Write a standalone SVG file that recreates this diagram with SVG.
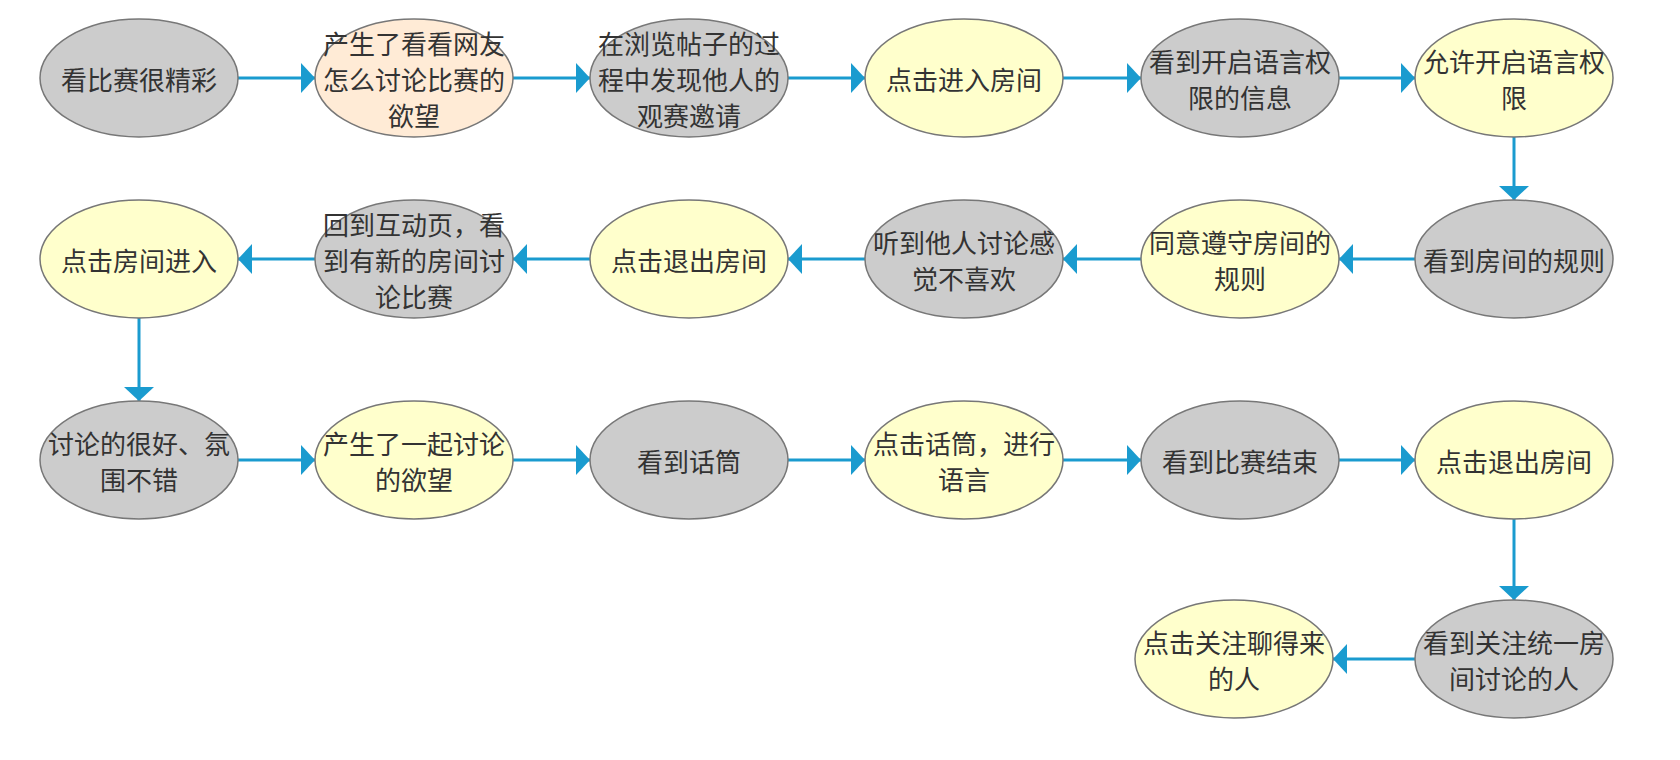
<svg xmlns="http://www.w3.org/2000/svg" width="1680" height="760" viewBox="0 0 1680 760">
<style>
.n ellipse{stroke:#777;stroke-width:1.5}
.g ellipse{fill:#cccccc}
.y ellipse{fill:#ffffcc}
.p ellipse{fill:#ffebd6}
text{font-family:"Noto Sans CJK SC","Noto Sans",sans-serif;font-size:26px;fill:#333;text-anchor:middle;dominant-baseline:central}
.c line{stroke:#1a9bcf;stroke-width:3;fill:none}
</style>
<defs>
<marker id="ah" viewBox="0 0 14 30" refX="14" refY="15" markerWidth="14" markerHeight="30" markerUnits="userSpaceOnUse" orient="auto">
<path d="M0,0 L14,15 L0,30 Z" fill="#1a9bcf"/>
</marker>
</defs>
<rect width="1680" height="760" fill="#fff"/>
<g class="c">
<line x1="238" y1="78" x2="315" y2="78" marker-end="url(#ah)"/>
<line x1="513" y1="78" x2="590" y2="78" marker-end="url(#ah)"/>
<line x1="788" y1="78" x2="865" y2="78" marker-end="url(#ah)"/>
<line x1="1063" y1="78" x2="1141" y2="78" marker-end="url(#ah)"/>
<line x1="1339" y1="78" x2="1415" y2="78" marker-end="url(#ah)"/>
<line x1="1514" y1="137" x2="1514" y2="200" marker-end="url(#ah)"/>
<line x1="1415" y1="259" x2="1339" y2="259" marker-end="url(#ah)"/>
<line x1="1141" y1="259" x2="1063" y2="259" marker-end="url(#ah)"/>
<line x1="865" y1="259" x2="788" y2="259" marker-end="url(#ah)"/>
<line x1="590" y1="259" x2="513" y2="259" marker-end="url(#ah)"/>
<line x1="315" y1="259" x2="238" y2="259" marker-end="url(#ah)"/>
<line x1="139" y1="318" x2="139" y2="401" marker-end="url(#ah)"/>
<line x1="238" y1="460" x2="315" y2="460" marker-end="url(#ah)"/>
<line x1="513" y1="460" x2="590" y2="460" marker-end="url(#ah)"/>
<line x1="788" y1="460" x2="865" y2="460" marker-end="url(#ah)"/>
<line x1="1063" y1="460" x2="1141" y2="460" marker-end="url(#ah)"/>
<line x1="1339" y1="460" x2="1415" y2="460" marker-end="url(#ah)"/>
<line x1="1514" y1="519" x2="1514" y2="600" marker-end="url(#ah)"/>
<line x1="1415" y1="659" x2="1333" y2="659" marker-end="url(#ah)"/>
</g>
<g id="n1" class="n g"><ellipse cx="139" cy="78" rx="99" ry="59"/><text x="139" y="78">看比赛很精彩</text></g>
<g id="n2" class="n p"><ellipse cx="414" cy="78" rx="99" ry="59"/><text x="414" y="42">产生了看看网友</text><text x="414" y="78">怎么讨论比赛的</text><text x="414" y="114">欲望</text></g>
<g id="n3" class="n g"><ellipse cx="689" cy="78" rx="99" ry="59"/><text x="689" y="42">在浏览帖子的过</text><text x="689" y="78">程中发现他人的</text><text x="689" y="114">观赛邀请</text></g>
<g id="n4" class="n y"><ellipse cx="964" cy="78" rx="99" ry="59"/><text x="964" y="78">点击进入房间</text></g>
<g id="n5" class="n g"><ellipse cx="1240" cy="78" rx="99" ry="59"/><text x="1240" y="60">看到开启语言权</text><text x="1240" y="96">限的信息</text></g>
<g id="n6" class="n y"><ellipse cx="1514" cy="78" rx="99" ry="59"/><text x="1514" y="60">允许开启语言权</text><text x="1514" y="96">限</text></g>
<g id="n7" class="n g"><ellipse cx="1514" cy="259" rx="99" ry="59"/><text x="1514" y="259">看到房间的规则</text></g>
<g id="n8" class="n y"><ellipse cx="1240" cy="259" rx="99" ry="59"/><text x="1240" y="241">同意遵守房间的</text><text x="1240" y="277">规则</text></g>
<g id="n9" class="n g"><ellipse cx="964" cy="259" rx="99" ry="59"/><text x="964" y="241">听到他人讨论感</text><text x="964" y="277">觉不喜欢</text></g>
<g id="n10" class="n y"><ellipse cx="689" cy="259" rx="99" ry="59"/><text x="689" y="259">点击退出房间</text></g>
<g id="n11" class="n g"><ellipse cx="414" cy="259" rx="99" ry="59"/><text x="414" y="223">回到互动页，看</text><text x="414" y="259">到有新的房间讨</text><text x="414" y="295">论比赛</text></g>
<g id="n12" class="n y"><ellipse cx="139" cy="259" rx="99" ry="59"/><text x="139" y="259">点击房间进入</text></g>
<g id="n13" class="n g"><ellipse cx="139" cy="460" rx="99" ry="59"/><text x="139" y="442">讨论的很好、氛</text><text x="139" y="478">围不错</text></g>
<g id="n14" class="n y"><ellipse cx="414" cy="460" rx="99" ry="59"/><text x="414" y="442">产生了一起讨论</text><text x="414" y="478">的欲望</text></g>
<g id="n15" class="n g"><ellipse cx="689" cy="460" rx="99" ry="59"/><text x="689" y="460">看到话筒</text></g>
<g id="n16" class="n y"><ellipse cx="964" cy="460" rx="99" ry="59"/><text x="964" y="442">点击话筒，进行</text><text x="964" y="478">语言</text></g>
<g id="n17" class="n g"><ellipse cx="1240" cy="460" rx="99" ry="59"/><text x="1240" y="460">看到比赛结束</text></g>
<g id="n18" class="n y"><ellipse cx="1514" cy="460" rx="99" ry="59"/><text x="1514" y="460">点击退出房间</text></g>
<g id="n19" class="n g"><ellipse cx="1514" cy="659" rx="99" ry="59"/><text x="1514" y="641">看到关注统一房</text><text x="1514" y="677">间讨论的人</text></g>
<g id="n20" class="n y"><ellipse cx="1234" cy="659" rx="99" ry="59"/><text x="1234" y="641">点击关注聊得来</text><text x="1234" y="677">的人</text></g>
</svg>
